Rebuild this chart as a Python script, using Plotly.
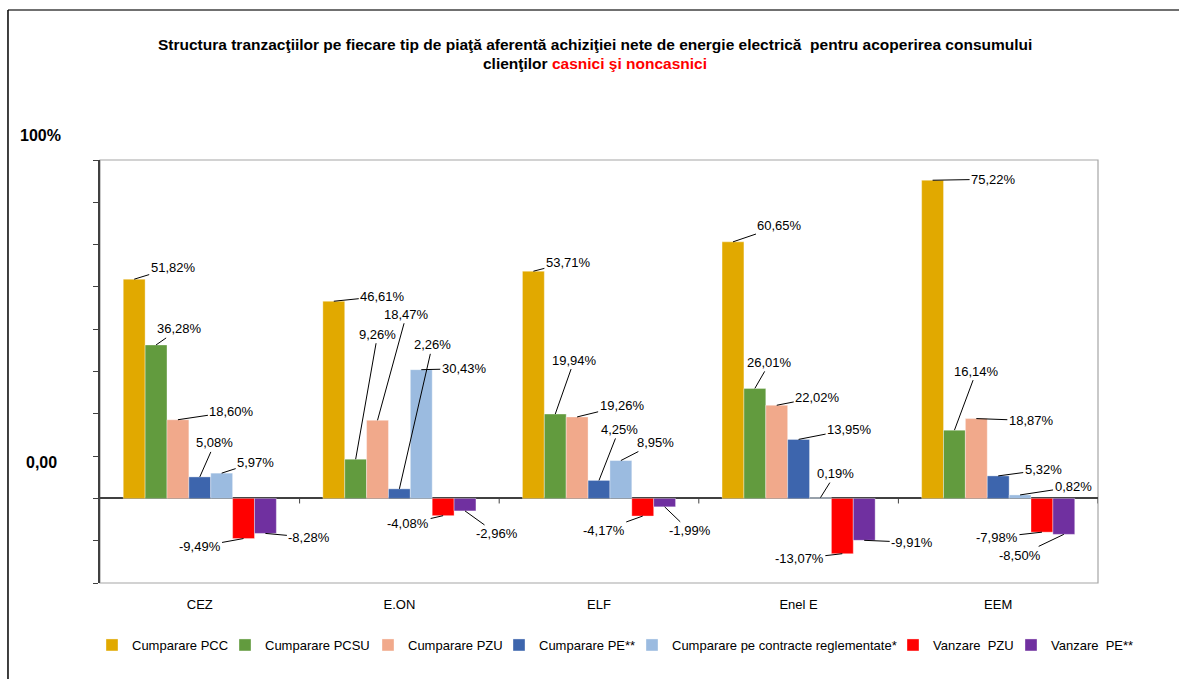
import plotly.graph_objects as go

companies = ["CEZ", "E.ON", "ELF", "Enel E", "EEM"]
series_names = ["Cumparare PCC", "Cumparare PCSU", "Cumparare PZU", "Cumparare PE**",
                "Cumparare pe contracte reglementate*", "Vanzare  PZU", "Vanzare  PE**"]
cumparare_pcc = [51.82, 46.61, 53.71, 60.65, 75.22]
cumparare_pcsu = [36.28, 9.26, 19.94, 26.01, 16.14]
cumparare_pzu = [18.60, 18.47, 19.26, 22.02, 18.87]
cumparare_pe = [5.08, 2.26, 4.25, 13.95, 5.32]
cumparare_contracte = [5.97, 30.43, 8.95, 0.19, 0.82]
vanzare_pzu = [-9.49, -4.08, -4.17, -13.07, -7.98]
vanzare_pe = [-8.28, -2.96, -1.99, -9.91, -8.50]
series_values = [cumparare_pcc, cumparare_pcsu, cumparare_pzu, cumparare_pe,
                 cumparare_contracte, vanzare_pzu, vanzare_pe]
colors = ["#E1A900", "#629B3E", "#F1A98B", "#3D65AD", "#9BBBE0", "#FF0000", "#7030A0"]

title_line1 = "Structura tranzacţiilor pe fiecare tip de piaţă aferentă achiziţiei nete de energie electrică  pentru acoperirea consumului"
title_line2_black = "clienţilor "
title_line2_red = "casnici şi noncasnici"

# label offsets (pixels) for the leader-line labels: [series][company] -> (ax, ay)
label_offsets = [
    [(39, -12), (49, -5), (35, -9), (47, -16), (61, -1)],
    [(23, -16), (22, -125), (19, -54), (15, -26), (22, -59)],
    [(54, -8), (29, -106), (45, -11), (41, -8), (55, 2)],
    [(15, -34), (33, -144), (20, -51), (51, -10), (45, -6)],
    [(34, -11), (43, -1), (35, -18), (15, -24), (53, -8)],
    [(-44, 8), (-35, 8), (-39, 14), (-43, 5), (-45, 5)],
    [(44, 4), (32, 23), (25, 24), (48, 2), (-44, 21)],
]
# legend entry text start positions (pixels)
legend_text_px = [132, 265, 408, 539, 672, 933, 1051]

BARGAP = 0.233
FONT = "Liberation Sans, Arial, sans-serif"
ML, MR, MT, MB = 100, 81, 160, 96
W, H = 1179, 679
PW = W - ML - MR
PH = H - MT - MB

fig = go.Figure()
legend_layouts = {}
for j, (name, vals, col) in enumerate(zip(series_names, series_values, colors)):
    lname = "legend" if j == 0 else f"legend{j + 1}"
    fig.add_trace(go.Bar(x=list(range(len(companies))), y=vals, name=name, legend=lname,
                         showlegend=True,
                         marker=dict(color=col, line=dict(width=0.6, color="rgba(255,255,255,0.6)"))))
    legend_layouts[lname] = dict(
        orientation="h", x=(legend_text_px[j] - 40 - ML) / PW, xanchor="left",
        y=-0.1466, yanchor="middle", itemwidth=30, bgcolor="rgba(0,0,0,0)",
        visible=True,
        font=dict(family=FONT, size=13, color="#000000"))

n_series = len(series_values)
bw = (1 - BARGAP) / n_series
annotations = []
for j, vals in enumerate(series_values):
    for i, v in enumerate(vals):
        ax, ay = label_offsets[j][i]
        annotations.append(dict(
            x=i + (j - (n_series - 1) / 2) * bw, y=v, xref="x", yref="y",
            text=f"{v:.2f}".replace(".", ",") + "%",
            showarrow=True, arrowhead=0, arrowwidth=1, arrowcolor="#000000",
            ax=ax, ay=ay, standoff=0, startstandoff=0,
            font=dict(family=FONT, size=13, color="#000000")))

annotations.append(dict(x=-0.060, y=1.059, xref="paper", yref="paper", text="<b>100%</b>",
                        xanchor="center", yanchor="middle",
                        showarrow=False, font=dict(family=FONT, size=16, color="#000000")))
annotations.append(dict(x=-0.059, y=0.286, xref="paper", yref="paper", text="<b>0,00</b>",
                        xanchor="center", yanchor="middle",
                        showarrow=False, font=dict(family=FONT, size=16, color="#000000")))
# title (two lines placed separately to match line spacing)
annotations.append(dict(x=(594.5 - ML) / PW, y=(MT + PH - 45) / PH, xref="paper", yref="paper",
                        text=f"<b>{title_line1}</b>", xanchor="center", yanchor="middle",
                        showarrow=False, font=dict(family=FONT, size=15.5, color="#000000")))
annotations.append(dict(x=(594.5 - ML) / PW, y=(MT + PH - 63) / PH, xref="paper", yref="paper",
                        text=f"<b>{title_line2_black}<span style='color:#FF0000'>{title_line2_red}</span></b>",
                        xanchor="center", yanchor="middle",
                        showarrow=False, font=dict(family=FONT, size=15.5, color="#000000")))

shapes = []
# plot area border
shapes.append(dict(type="rect", xref="paper", yref="paper", x0=0, x1=1, y0=0, y1=1,
                   line=dict(color="#A6A6A6", width=1.2), layer="below"))
# outer chart border (top and left visible)
shapes.append(dict(type="line", xref="paper", yref="paper", x0=-0.0922, x1=1.1, y0=1.3546, y1=1.3546,
                   line=dict(color="#404040", width=1.5)))
shapes.append(dict(type="line", xref="paper", yref="paper", x0=-0.0922, x1=-0.0922, y0=1.3546, y1=-0.25,
                   line=dict(color="#000000", width=1.5)))
# category separator ticks on the zero line
for k in range(1, len(companies) + 1):
    shapes.append(dict(type="line", xref="x", yref="y", x0=k - 0.5, x1=k - 0.5, y0=0, y1=-1.2,
                       line=dict(color="#404040", width=1)))

fig.update_layout(
    width=W, height=H,
    margin=dict(l=ML, r=MR, t=MT, b=MB, autoexpand=False),
    paper_bgcolor="white", plot_bgcolor="white",
    showlegend=True,
    barmode="group", bargap=BARGAP, bargroupgap=0,
    font=dict(family=FONT, size=13, color="#000000"),
    xaxis=dict(tickmode="array", tickvals=list(range(len(companies))), ticktext=companies,
               range=[-0.5, len(companies) - 0.5], showgrid=False, zeroline=False, showline=False,
               ticks="", ticklabelstandoff=12, tickfont=dict(family=FONT, size=13, color="#000000")),
    yaxis=dict(range=[-20, 80], dtick=10, showgrid=False, showticklabels=False,
               ticks="outside", ticklen=5, tickcolor="#404040", tickwidth=1,
               showline=True, linecolor="#404040", linewidth=1.5,
               zeroline=True, zerolinecolor="#404040", zerolinewidth=1.5),
    annotations=annotations,
    shapes=shapes,
    **legend_layouts,
)

fig.write_html("out.html", config={"displayModeBar": False},
               post_script="document.body.style.margin='0px';")
